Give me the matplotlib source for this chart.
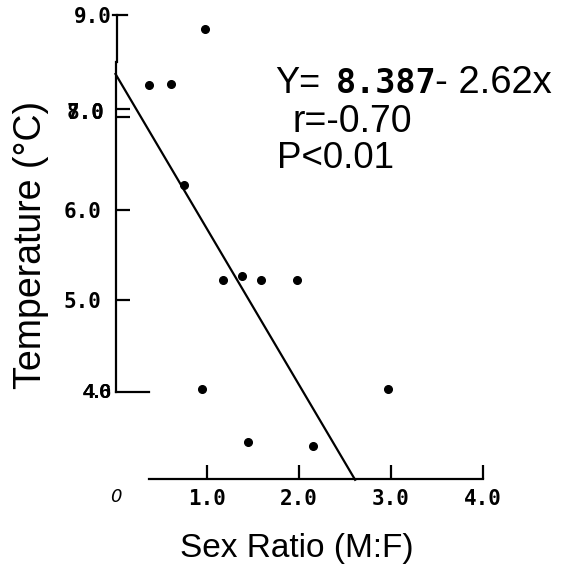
import matplotlib
matplotlib.use("Agg")
import matplotlib.pyplot as plt

# sex ratio (M:F) vs temperature
ratio = [0.37, 0.60, 0.98, 0.75, 1.17, 1.38, 1.59, 1.98, 0.94, 2.97, 1.44, 2.15]
temp = [7.39, 7.40, 8.01, 6.28, 5.22, 5.26, 5.22, 5.22, 4.00, 4.00, 3.41, 3.37]

# fitted line as drawn
fit_a = 7.51
fit_b = -1.73
fit_x = [0.0, 2.61]

xticks = [1.0, 2.0, 3.0, 4.0]
xticklabels = ["1.0", "2.0", "3.0", "4.0"]
yticks = [5.0, 6.0]
yticklabels = ["5.0", "6.0"]

W, H = 569, 570
fig = plt.figure(figsize=(W / 100, H / 100), dpi=100)
ax = fig.add_axes([115.5 / W, (H - 479.3) / H, 367.2 / W, 479.3 / H])
ax.set_xlim(0, 4.0)
ax.set_ylim(3.0, 8.333)
ax.patch.set_visible(False)


def fpos(x, y):
    # pixel position -> figure fraction
    return x / W, 1 - y / H


mono = {"family": "DejaVu Sans Mono", "weight": "bold", "size": 15}

ax.plot(ratio, temp, "o", color="black", ms=5.5, clip_on=False)
ax.plot(fit_x, [fit_a + fit_b * x for x in fit_x], color="black", lw=1.6, clip_on=False)

for s in ["top", "right"]:
    ax.spines[s].set_visible(False)
ax.spines["bottom"].set_bounds(0.37, 4.0)
ax.spines["left"].set_bounds(3.966, 7.64)
for s in ["bottom", "left"]:
    ax.spines[s].set_linewidth(1.6)

ax.set_xticks(xticks)
ax.set_xticklabels(xticklabels, fontdict=mono)
ax.set_yticks(yticks + [7.026, 7.118])
ax.set_yticklabels(yticklabels + ["", ""], fontdict=mono)
ax.tick_params(direction="in", length=10, width=1.6, pad=10)
ax.tick_params(axis="x", pad=7)

# odd bits of the broken axis
ax.plot([0.013, 0.013], [7.64, 8.165], color="black", lw=1.6, clip_on=False)
ax.plot([-0.024, 0.129], [8.165, 8.165], color="black", lw=1.6, clip_on=False)
ax.plot([0.0, 0.365], [3.966, 3.966], color="black", lw=1.6, clip_on=False)

fig.text(*fpos(112, 17), "9.0", ha="right", va="center", **mono)
fig.text(*fpos(104, 113), "8.0", ha="right", va="center", **mono)
fig.text(*fpos(104, 113), "7.0", ha="right", va="center", **mono)
fig.text(*fpos(112, 392), "4.0", ha="right", va="center", family="Liberation Sans", weight="bold", size=15)
fig.text(*fpos(112, 392), "4.6", ha="right", va="center", family="Liberation Sans", weight="bold", size=15)
fig.text(*fpos(116, 497), "0", ha="center", va="center", family="DejaVu Sans", style="italic", size=13)

sans = {"family": "Liberation Sans"}
fig.text(*fpos(31, 245), "Temperature (°C)", rotation=90, ha="center", va="center", size=27, **sans)
fig.text(*fpos(297, 557), "Sex Ratio (M:F)", ha="center", va="baseline", size=24, **sans)

fig.text(*fpos(275, 93), "Y=", ha="left", va="baseline", size=26, **sans)
fig.text(*fpos(336, 93), "8.387", ha="left", va="baseline", family="DejaVu Sans Mono", weight="bold", size=24)
fig.text(*fpos(435, 93), "- 2.62x", ha="left", va="baseline", size=27.5, **sans)
fig.text(*fpos(293, 132), "r=-0.70", ha="left", va="baseline", size=27, **sans)
fig.text(*fpos(277, 168), "P<0.01", ha="left", va="baseline", size=26.5, **sans)

fig.savefig("out.png", dpi=100)
